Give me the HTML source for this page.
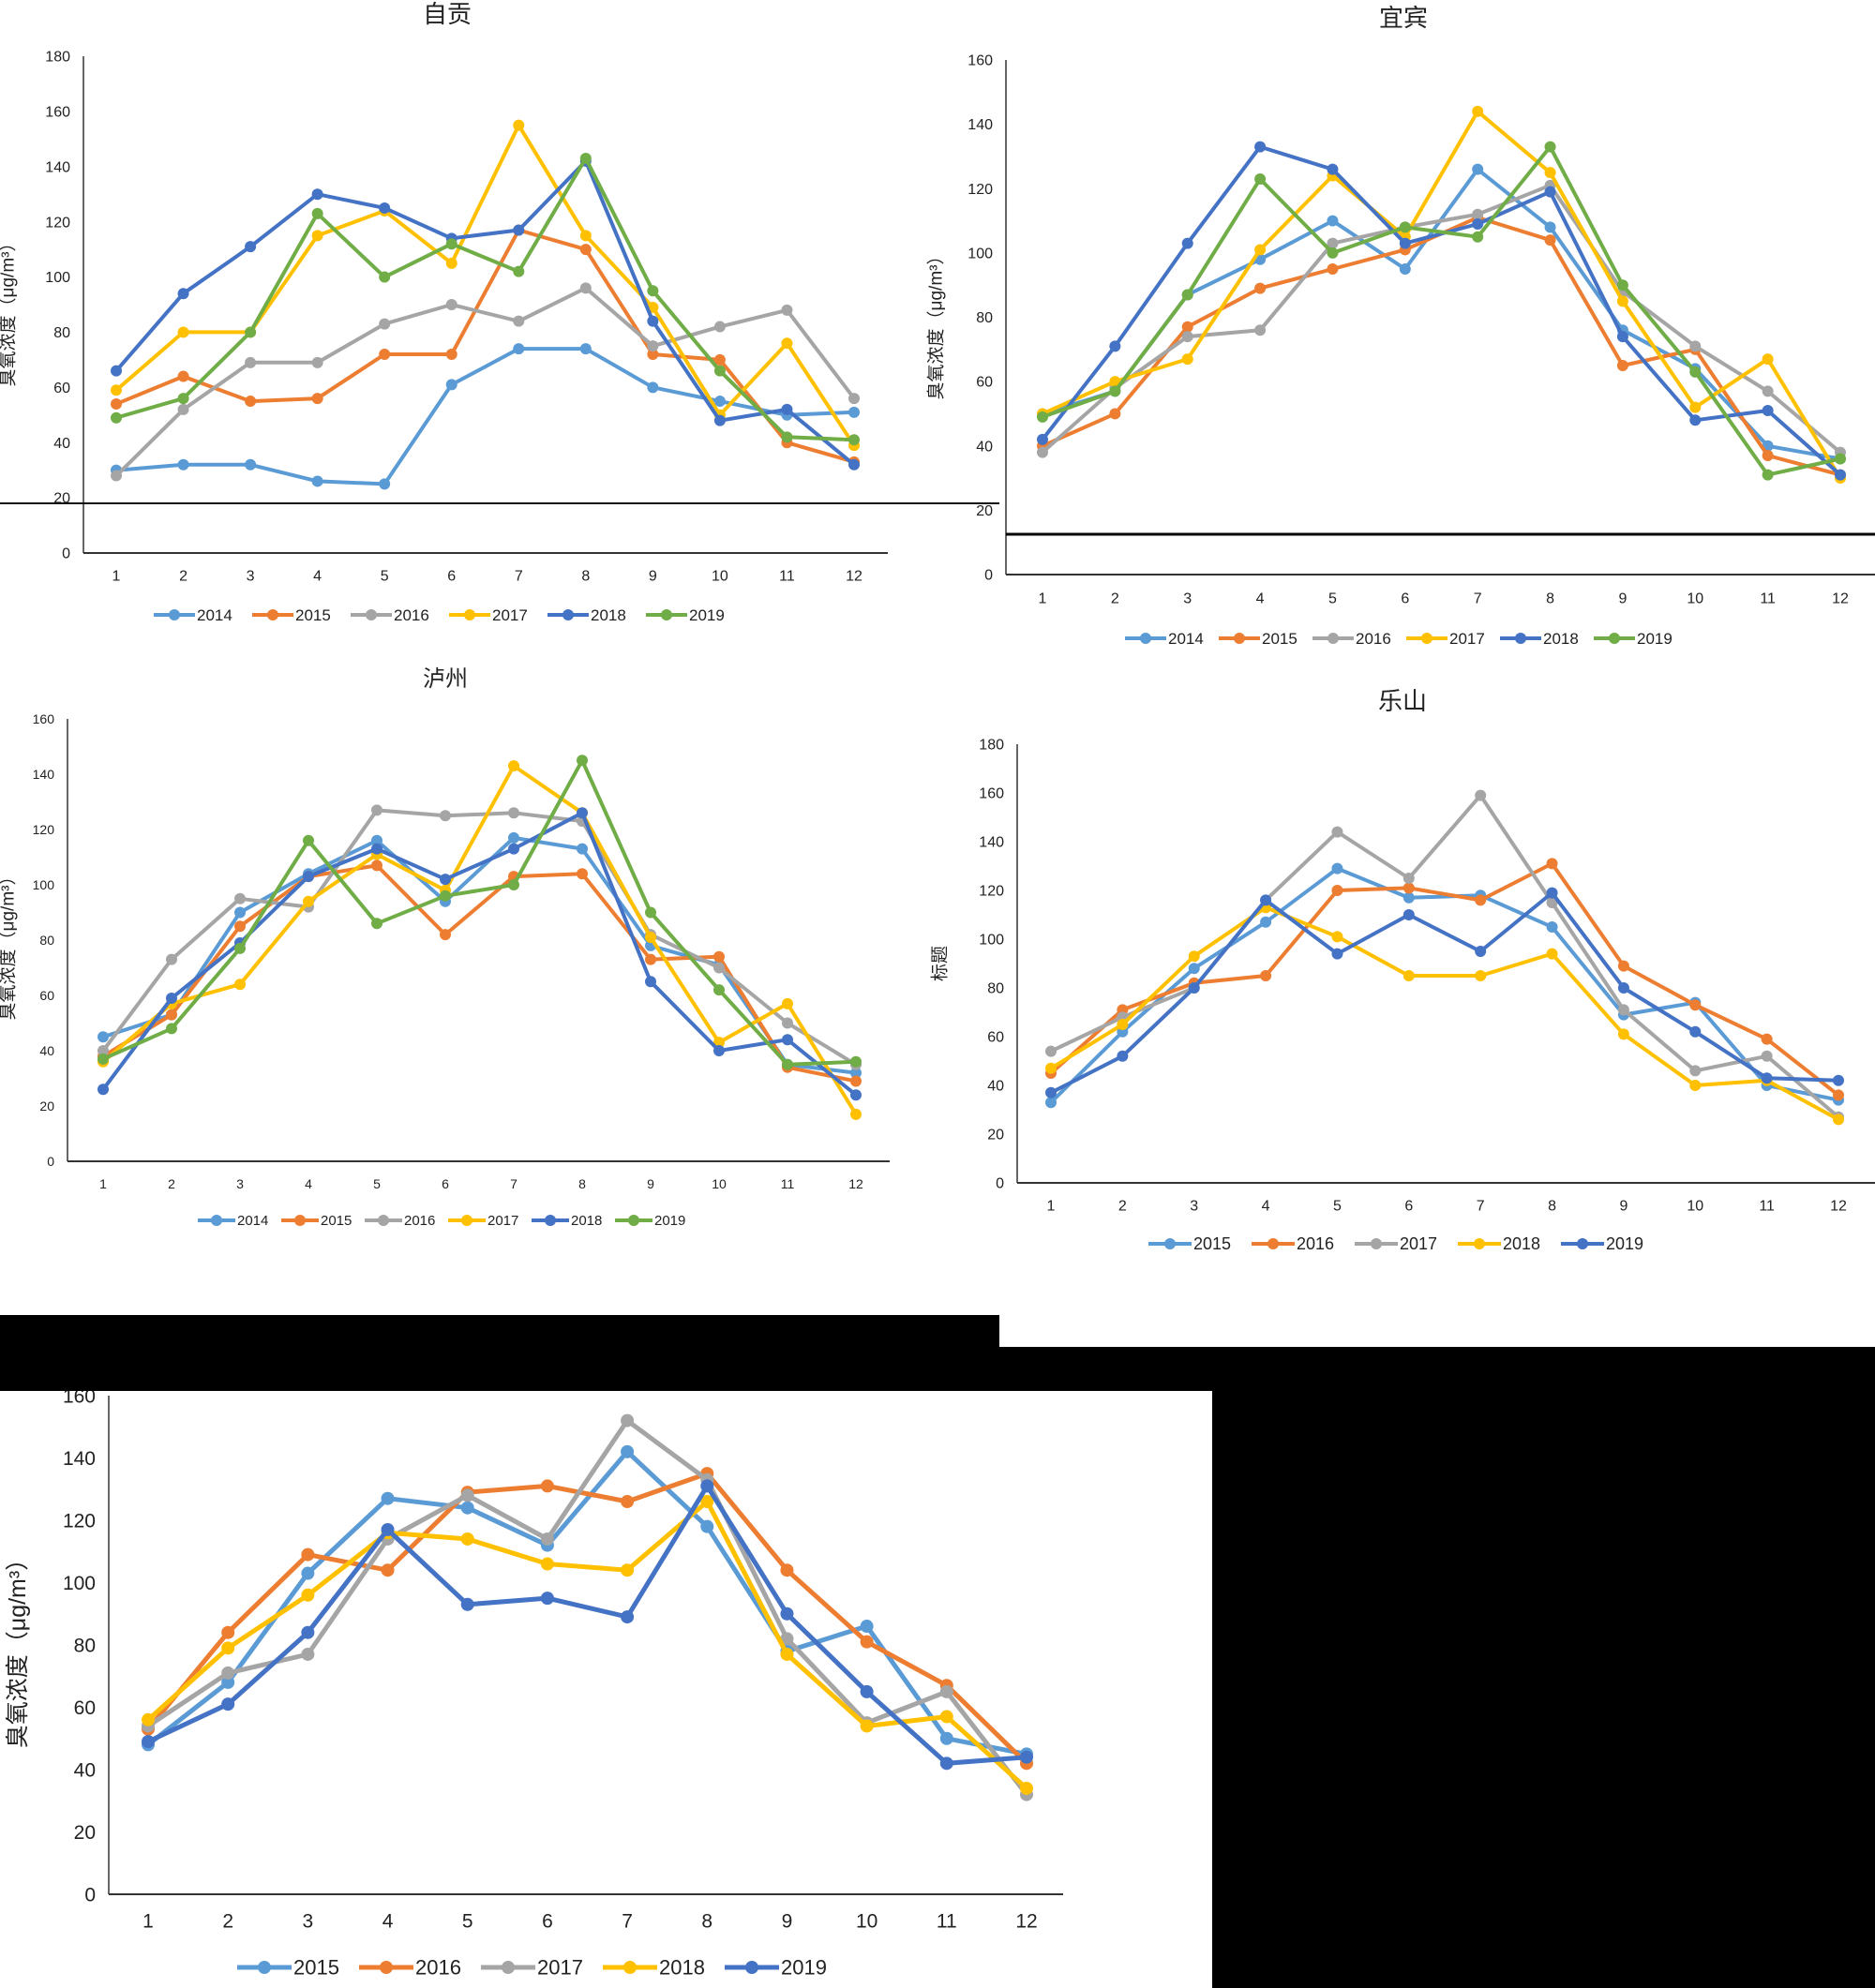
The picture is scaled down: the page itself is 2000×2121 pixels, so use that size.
<!DOCTYPE html>
<html><head><meta charset="utf-8">
<style>
html,body{margin:0;padding:0;background:#fff;}
svg{display:block;}
text{font-family:"Liberation Sans","Noto Sans CJK SC",sans-serif;fill:#222;}
</style></head>
<body>
<svg id="svg" width="2000" height="2121" viewBox="0 0 2000 2121" xmlns="http://www.w3.org/2000/svg"></svg>
<script>
const months = ['1','2','3','4','5','6','7','8','9','10','11','12'];
const years6 = ['2014','2015','2016','2017','2018','2019'];
const years5 = ['2015','2016','2017','2018','2019'];
const zigongTicks = [0,20,40,60,80,100,120,140,160,180];
const yibinTicks = [0,20,40,60,80,100,120,140,160];
const luzhouTicks = [0,20,40,60,80,100,120,140,160];
const leshanTicks = [0,20,40,60,80,100,120,140,160,180];
const bottomTicks = [0,20,40,60,80,100,120,140,160];

const zigong2014 = [30,32,32,26,25,61,74,74,60,55,50,51];
const zigong2015 = [54,64,55,56,72,72,117,110,72,70,40,33];
const zigong2016 = [28,52,69,69,83,90,84,96,75,82,88,56];
const zigong2017 = [59,80,80,115,124,105,155,115,89,50,76,39];
const zigong2018 = [66,94,111,130,125,114,117,142,84,48,52,32];
const zigong2019 = [49,56,80,123,100,112,102,143,95,66,42,41];

const yibin2014 = [50,57,87,98,110,95,126,108,76,64,40,36];
const yibin2015 = [40,50,77,89,95,101,111,104,65,70,37,31];
const yibin2016 = [38,58,74,76,103,108,112,121,88,71,57,38];
const yibin2017 = [50,60,67,101,124,105,144,125,85,52,67,30];
const yibin2018 = [42,71,103,133,126,103,109,119,74,48,51,31];
const yibin2019 = [49,57,87,123,100,108,105,133,90,63,31,36];

const luzhou2014 = [45,53,90,104,116,94,117,113,78,71,35,32];
const luzhou2015 = [38,53,85,103,107,82,103,104,73,74,34,29];
const luzhou2016 = [40,73,95,92,127,125,126,123,82,70,50,35];
const luzhou2017 = [36,57,64,94,111,98,143,126,81,43,57,17];
const luzhou2018 = [26,59,79,103,113,102,113,126,65,40,44,24];
const luzhou2019 = [37,48,77,116,86,96,100,145,90,62,35,36];

const leshan2015 = [33,62,88,107,129,117,118,105,69,74,40,34];
const leshan2016 = [45,71,82,85,120,121,116,131,89,73,59,36];
const leshan2017 = [54,68,80,116,144,125,159,115,71,46,52,27];
const leshan2018 = [47,65,93,113,101,85,85,94,61,40,42,26];
const leshan2019 = [37,52,80,116,94,110,95,119,80,62,43,42];

const bottom2015 = [48,68,103,127,124,112,142,118,78,86,50,45];
const bottom2016 = [53,84,109,104,129,131,126,135,104,81,67,42];
const bottom2017 = [54,71,77,114,128,114,152,133,82,55,65,32];
const bottom2018 = [56,79,96,116,114,106,104,126,77,54,57,34];
const bottom2019 = [49,61,84,117,93,95,89,131,90,65,42,44];

const C6 = ['#5B9BD5','#ED7D31','#A5A5A5','#FFC000','#4472C4','#70AD47'];
const C5 = ['#5B9BD5','#ED7D31','#A5A5A5','#FFC000','#4472C4'];
const NS = 'http://www.w3.org/2000/svg';
const svg = document.getElementById('svg');

function mk(tag, attrs, parent) {
  const e = document.createElementNS(NS, tag);
  for (const k in attrs) e.setAttribute(k, attrs[k]);
  (parent || svg).appendChild(e);
  return e;
}

function chart(cfg) {
  const g = mk('g', {});
  
  
  const maxV = cfg.ticks[cfg.ticks.length - 1];
  const yS = v => cfg.y0 - (v / maxV) * (cfg.y0 - cfg.yTop);
  const xS = i => cfg.x1 + i * (cfg.x12 - cfg.x1) / 11;
  if (cfg.title) {
    const t = mk('text', {x: cfg.titleX, y: cfg.titleY, 'text-anchor': 'middle', 'font-size': cfg.titleSize}, g);
    t.textContent = cfg.title;
    
    
  }
  const ax = mk('line', {x1: cfg.ax, y1: cfg.yTop, x2: cfg.ax, y2: cfg.y0, stroke: '#333', 'stroke-width': 1.5}, g);
  
  
  const xa = mk('line', {x1: cfg.ax, y1: cfg.y0, x2: cfg.axEnd, y2: cfg.y0, stroke: '#333', 'stroke-width': 2}, g);
  
  
  cfg.ticks.forEach(v => {
    const t = mk('text', {x: cfg.ax - 14, y: yS(v) + cfg.fs * 0.35, 'text-anchor': 'end', 'font-size': cfg.fs}, g);
    t.textContent = v;
    
    
  });
  months.forEach((m, i) => {
    const t = mk('text', {x: xS(i), y: cfg.labY + cfg.fs * 0.35, 'text-anchor': 'middle', 'font-size': cfg.fs}, g);
    t.textContent = m;
    
    
  });
  const yl = mk('text', {x: 0, y: 0, 'text-anchor': 'middle', 'font-size': cfg.ylSize,
    transform: 'translate(' + (cfg.ylX + cfg.ylSize * 0.35) + ',' + cfg.ylY + ') rotate(-90)'}, g);
  yl.textContent = cfg.yLabel;
  
  
  cfg.series.forEach((s, k) => {
    const pts = s.map((v, i) => xS(i).toFixed(1) + ',' + yS(v).toFixed(1)).join(' ');
    const pl = mk('polyline', {points: pts, fill: 'none', stroke: cfg.colors[k], 'stroke-width': cfg.lw, 'stroke-linejoin': 'round'}, g);
    
    
    s.forEach((v, i) => {
      const c = mk('circle', {cx: xS(i), cy: yS(v), r: cfg.r, fill: cfg.colors[k]}, g);
      
      
    });
  });
  const n = cfg.years.length;
  const start = cfg.legX - n * cfg.legStep / 2;
  cfg.years.forEach((yr, k) => {
    const lx = start + k * cfg.legStep;
    const lg = mk('g', {}, g);
    
    
    mk('line', {x1: lx, y1: cfg.legY, x2: lx + cfg.legLine, y2: cfg.legY, stroke: cfg.colors[k], 'stroke-width': cfg.lw}, lg);
    mk('circle', {cx: lx + cfg.legLine / 2, cy: cfg.legY, r: cfg.r, fill: cfg.colors[k]}, lg);
    const t = mk('text', {x: lx + cfg.legLine + 2, y: cfg.legY + cfg.fs * 0.36, 'font-size': cfg.legFs}, lg);
    t.textContent = yr;
  });
}

const YL = '臭氧浓度（μg/m³）';
chart({name:'zigong-chart', title:'自贡', titleX:477, titleY:24, titleSize:26, ticks:zigongTicks,
  ax:89, axEnd:947, yTop:60, y0:590, x1:124, x12:911, labY:614, fs:16, ylX:8, ylY:331, ylSize:19, yLabel:YL,
  series:[zigong2014,zigong2015,zigong2016,zigong2017,zigong2018,zigong2019], colors:C6, years:years6,
  lw:4, r:6, legX:479, legY:656, legStep:105, legLine:44, legFs:17});
chart({name:'yibin-chart', title:'宜宾', titleX:1497, titleY:28, titleSize:26, ticks:yibinTicks,
  ax:1073, axEnd:2000, yTop:64, y0:613, x1:1112, x12:1963, labY:638, fs:16, ylX:998, ylY:345, ylSize:19, yLabel:YL,
  series:[yibin2014,yibin2015,yibin2016,yibin2017,yibin2018,yibin2019], colors:C6, years:years6,
  lw:4, r:6, legX:1500, legY:681, legStep:100, legLine:44, legFs:17});
chart({name:'luzhou-chart', title:'泸州', titleX:475, titleY:732, titleSize:24, ticks:luzhouTicks,
  ax:72, axEnd:949, yTop:767, y0:1239, x1:110, x12:913, labY:1263, fs:14, ylX:8, ylY:1007, ylSize:19, yLabel:YL,
  series:[luzhou2014,luzhou2015,luzhou2016,luzhou2017,luzhou2018,luzhou2019], colors:C6, years:years6,
  lw:4, r:6, legX:478, legY:1302, legStep:89, legLine:40, legFs:15});
chart({name:'leshan-chart', title:'乐山', titleX:1496, titleY:757, titleSize:26, ticks:leshanTicks,
  ax:1085, axEnd:2000, yTop:794, y0:1262, x1:1121, x12:1961, labY:1286, fs:16, ylX:1002, ylY:1028, ylSize:19, yLabel:'标题',
  series:[leshan2015,leshan2016,leshan2017,leshan2018,leshan2019], colors:C5, years:years5,
  lw:4, r:6, legX:1500, legY:1327, legStep:110, legLine:46, legFs:18});
chart({name:'bottom-chart', title:'', ticks:bottomTicks,
  ax:116, axEnd:1134, yTop:1489, y0:2021, x1:158, x12:1095, labY:2049, fs:21, ylX:18, ylY:1758, ylSize:25, yLabel:YL,
  series:[bottom2015,bottom2016,bottom2017,bottom2018,bottom2019], colors:C5, years:years5,
  lw:5, r:7, legX:578, legY:2099, legStep:130, legLine:58, legFs:22});

let e;
e = mk('line', {x1:0, y1:537, x2:1066, y2:537, stroke:'#111', 'stroke-width':2});


e = mk('line', {x1:1073, y1:570, x2:2000, y2:570, stroke:'#000', 'stroke-width':3});


e = mk('rect', {x:0, y:1403, width:1066, height:81, fill:'#000'});


e = mk('rect', {x:1066, y:1437, width:934, height:47, fill:'#000'});


e = mk('rect', {x:1293, y:1483, width:707, height:638, fill:'#000'});


</script>
</body></html>
